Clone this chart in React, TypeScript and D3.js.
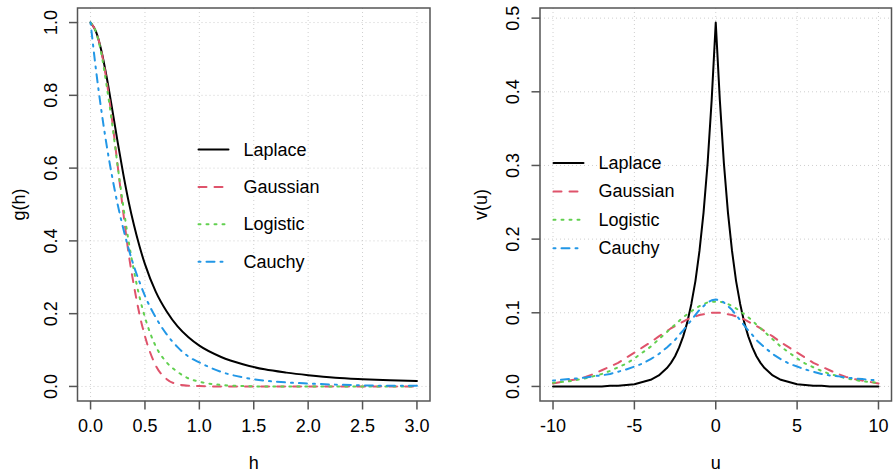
import React from "react";
import * as d3 from "d3";

// ---- Left panel: g(h) ----
const H = [0, 0.05, 0.1, 0.15, 0.2, 0.25, 0.3, 0.35, 0.4, 0.45, 0.5, 0.6, 0.7, 0.8, 0.9, 1.0, 1.2, 1.4, 1.6, 1.8, 2.0, 2.25, 2.5, 2.75, 3.0];
const gLaplace = [1, 0.975, 0.922, 0.847, 0.76, 0.67, 0.585, 0.508, 0.442, 0.385, 0.336, 0.26, 0.206, 0.165, 0.135, 0.112, 0.081, 0.061, 0.047, 0.038, 0.031, 0.024, 0.02, 0.017, 0.015];
const gGaussian = [1, 0.975, 0.92, 0.835, 0.728, 0.605, 0.48, 0.365, 0.275, 0.198, 0.138, 0.057, 0.02, 0.006, 0.002, 0.001, 0, 0, 0, 0, 0, 0, 0, 0, 0];
const gLogistic = [1, 0.974, 0.913, 0.822, 0.719, 0.604, 0.497, 0.399, 0.316, 0.246, 0.19, 0.11, 0.066, 0.04, 0.022, 0.013, 0.004, 0.001, 0, 0, 0, 0, 0, 0, 0];
const gCauchy = [1, 0.87, 0.757, 0.659, 0.574, 0.499, 0.435, 0.378, 0.329, 0.287, 0.249, 0.189, 0.143, 0.108, 0.082, 0.066, 0.04, 0.025, 0.016, 0.011, 0.008, 0.005, 0.003, 0.002, 0.002];
const hTicks = [0, 0.5, 1.0, 1.5, 2.0, 2.5, 3.0];
const gTicks = [0, 0.2, 0.4, 0.6, 0.8, 1.0];

// ---- Right panel: v(u) ----
const U = [
  -10, -9.5, -9, -8.5, -8, -7.5, -7, -6.5, -6, -5.5, -5, -4.5, -4, -3.5,
  -3, -2.75, -2.5, -2.25, -2, -1.75, -1.5, -1.25, -1, -0.75, -0.5, -0.25, 0,
  0.25, 0.5, 0.75, 1, 1.25, 1.5, 1.75, 2, 2.25, 2.5, 2.75, 3,
  3.5, 4, 4.5, 5, 5.5, 6, 6.5, 7, 7.5, 8, 8.5, 9, 9.5, 10,
];
const vLaplace = [
  0, 0, 0, 0, 0, 0, 0, 0.001, 0.001, 0.002, 0.003, 0.006, 0.009, 0.015,
  0.025, 0.032, 0.041, 0.053, 0.068, 0.087, 0.112, 0.143, 0.184, 0.236, 0.303, 0.389, 0.494,
  0.389, 0.303, 0.236, 0.184, 0.143, 0.112, 0.087, 0.068, 0.053, 0.041, 0.032, 0.025,
  0.015, 0.009, 0.006, 0.003, 0.002, 0.001, 0.001, 0, 0, 0, 0, 0, 0, 0,
];
const vGaussian = [
  0.004, 0.006, 0.008, 0.01, 0.013, 0.017, 0.022, 0.027, 0.032, 0.039, 0.046, 0.053, 0.06, 0.068,
  0.075, 0.079, 0.082, 0.085, 0.088, 0.091, 0.093, 0.095, 0.097, 0.098, 0.099, 0.1, 0.1,
  0.1, 0.099, 0.098, 0.097, 0.095, 0.093, 0.091, 0.088, 0.085, 0.082, 0.079, 0.075,
  0.068, 0.06, 0.053, 0.046, 0.039, 0.032, 0.027, 0.022, 0.017, 0.013, 0.01, 0.008, 0.006, 0.004,
];
const vLogistic = [
  0.005, 0.006, 0.007, 0.009, 0.011, 0.014, 0.017, 0.021, 0.026, 0.031, 0.038, 0.046, 0.054, 0.064,
  0.074, 0.079, 0.084, 0.089, 0.094, 0.098, 0.102, 0.106, 0.109, 0.112, 0.114, 0.115, 0.115,
  0.115, 0.114, 0.112, 0.109, 0.106, 0.102, 0.098, 0.094, 0.089, 0.084, 0.079, 0.074,
  0.064, 0.054, 0.046, 0.038, 0.031, 0.026, 0.021, 0.017, 0.014, 0.011, 0.009, 0.007, 0.006, 0.005,
];
const vCauchy = [
  0.008, 0.009, 0.01, 0.011, 0.012, 0.014, 0.015, 0.017, 0.02, 0.023, 0.027, 0.031, 0.037, 0.044,
  0.053, 0.058, 0.063, 0.07, 0.076, 0.083, 0.09, 0.097, 0.104, 0.109, 0.114, 0.117, 0.118,
  0.117, 0.114, 0.109, 0.104, 0.097, 0.09, 0.083, 0.076, 0.07, 0.063, 0.058, 0.053,
  0.044, 0.037, 0.031, 0.027, 0.023, 0.02, 0.017, 0.015, 0.014, 0.012, 0.011, 0.01, 0.009, 0.008,
];
const uTicks = [-10, -5, 0, 5, 10];
const vTicks = [0, 0.1, 0.2, 0.3, 0.4, 0.5];

const seriesNames = ["Laplace", "Gaussian", "Logistic", "Cauchy"];
const seriesColors = ["#000000", "#DF536B", "#61D04F", "#2297E6"];
// R line types 1..4 at lwd = 2
const seriesDash = [null, "8,8", "2,6", "2,6,8,6"];

const FONT = "'Liberation Sans', Arial, sans-serif";
const W = 893;
const HGT = 473;

type PanelProps = {
  xs: number[];
  ys: number[][];
  xRange: [number, number];
  yRange: [number, number];
  xTicks: number[];
  yTicks: number[];
  xFmt: (v: number) => string;
  yFmt: (v: number) => string;
  xLabel: string;
  yLabel: string;
  curve: d3.CurveFactory;
  legendX: number;
  legendY: number;
  legendStep: number;
};

function padded(ext: [number, number]): [number, number] {
  const d = (ext[1] - ext[0]) * 0.04;
  return [ext[0] - d, ext[1] + d];
}

const oneDecimal = (v: number) => v.toFixed(1);
const integer = (v: number) => String(Math.round(v));

function Panel(p: PanelProps) {
  const xExt = d3.extent(p.xs) as [number, number];
  const yExt: [number, number] = [
    d3.min(p.ys, (s) => d3.min(s)) as number,
    d3.max(p.ys, (s) => d3.max(s)) as number,
  ];
  const x = d3.scaleLinear().domain(padded(xExt)).range(p.xRange);
  const y = d3.scaleLinear().domain(padded(yExt)).range(p.yRange);
  const [x0, x1] = p.xRange;
  const [yb, yt] = p.yRange;
  const line = d3
    .line<number>()
    .x((_, i) => x(p.xs[i]))
    .y((d) => y(d))
    .curve(p.curve);

  return (
    <g>
      {/* grid */}
      {p.xTicks.map((t) => (
        <line key={"gx" + t} x1={x(t)} x2={x(t)} y1={yb} y2={yt} stroke="#CFCFCF" strokeDasharray="1,3" />
      ))}
      {p.yTicks.map((t) => (
        <line key={"gy" + t} x1={x0} x2={x1} y1={y(t)} y2={y(t)} stroke="#CFCFCF" strokeDasharray="1,3" />
      ))}
      {/* series */}
      {p.ys.map((s, i) => (
        <path
          key={"s" + i}
          d={line(s) || ""}
          fill="none"
          stroke={seriesColors[i]}
          strokeWidth={2}
          strokeDasharray={seriesDash[i] || undefined}
          strokeLinecap="round"
          strokeLinejoin="round"
        />
      ))}
      {/* box */}
      <rect x={x0} y={yt} width={x1 - x0} height={yb - yt} fill="none" stroke="#555" strokeWidth={1.5} />
      {/* x axis */}
      {p.xTicks.map((t) => (
        <g key={"xt" + t}>
          <line x1={x(t)} x2={x(t)} y1={yb} y2={yb + 8.5} stroke="#555" strokeWidth={1.5} />
          <text x={x(t)} y={yb + 25} textAnchor="middle" dominantBaseline="central" fontFamily={FONT} fontSize={18} fill="#000">
            {p.xFmt(t)}
          </text>
        </g>
      ))}
      {/* y axis */}
      {p.yTicks.map((t) => (
        <g key={"yt" + t}>
          <line x1={x0 - 8.5} x2={x0} y1={y(t)} y2={y(t)} stroke="#555" strokeWidth={1.5} />
          <text
            transform={`translate(${x0 - 27},${y(t)}) rotate(-90)`}
            textAnchor="middle"
            dominantBaseline="central"
            fontFamily={FONT}
            fontSize={18}
            fill="#000"
          >
            {p.yFmt(t)}
          </text>
        </g>
      ))}
      {/* axis titles */}
      <text x={(x0 + x1) / 2} y={462.5} textAnchor="middle" dominantBaseline="central" fontFamily={FONT} fontSize={18} fill="#000">
        {p.xLabel}
      </text>
      <text
        transform={`translate(${x0 - 59},${(yb + yt) / 2}) rotate(-90)`}
        textAnchor="middle"
        dominantBaseline="central"
        fontFamily={FONT}
        fontSize={18}
        fill="#000"
      >
        {p.yLabel}
      </text>
      {/* legend */}
      {seriesNames.map((n, i) => {
        const ly = p.legendY + i * p.legendStep;
        return (
          <g key={"lg" + n}>
            <line
              x1={p.legendX}
              x2={p.legendX + 30}
              y1={ly}
              y2={ly}
              stroke={seriesColors[i]}
              strokeWidth={2}
              strokeDasharray={seriesDash[i] || undefined}
              strokeLinecap="round"
            />
            <text x={p.legendX + 45} y={ly} dominantBaseline="central" fontFamily={FONT} fontSize={18} fill="#000">
              {n}
            </text>
          </g>
        );
      })}
    </g>
  );
}

export default function App() {
  return (
    <svg
      width={W}
      height={HGT}
      viewBox={`0 0 ${W} ${HGT}`}
      style={{ position: "absolute", left: 0, top: 0, background: "#fff" }}
    >
      <rect width={W} height={HGT} fill="#fff" />
      <Panel
        xs={H}
        ys={[gLaplace, gGaussian, gLogistic, gCauchy]}
        xRange={[77.5, 430]}
        yRange={[401, 8]}
        xTicks={hTicks}
        yTicks={gTicks}
        xFmt={oneDecimal}
        yFmt={oneDecimal}
        xLabel="h"
        yLabel="g(h)"
        curve={d3.curveMonotoneX}
        legendX={198.5}
        legendY={149.5}
        legendStep={37.4}
      />
      <Panel
        xs={U}
        ys={[vLaplace, vGaussian, vLogistic, vCauchy]}
        xRange={[540, 891.5]}
        yRange={[401, 8]}
        xTicks={uTicks}
        yTicks={vTicks}
        xFmt={integer}
        yFmt={oneDecimal}
        xLabel="u"
        yLabel="v(u)"
        curve={d3.curveLinear}
        legendX={553.5}
        legendY={163}
        legendStep={28.4}
      />
    </svg>
  );
}
